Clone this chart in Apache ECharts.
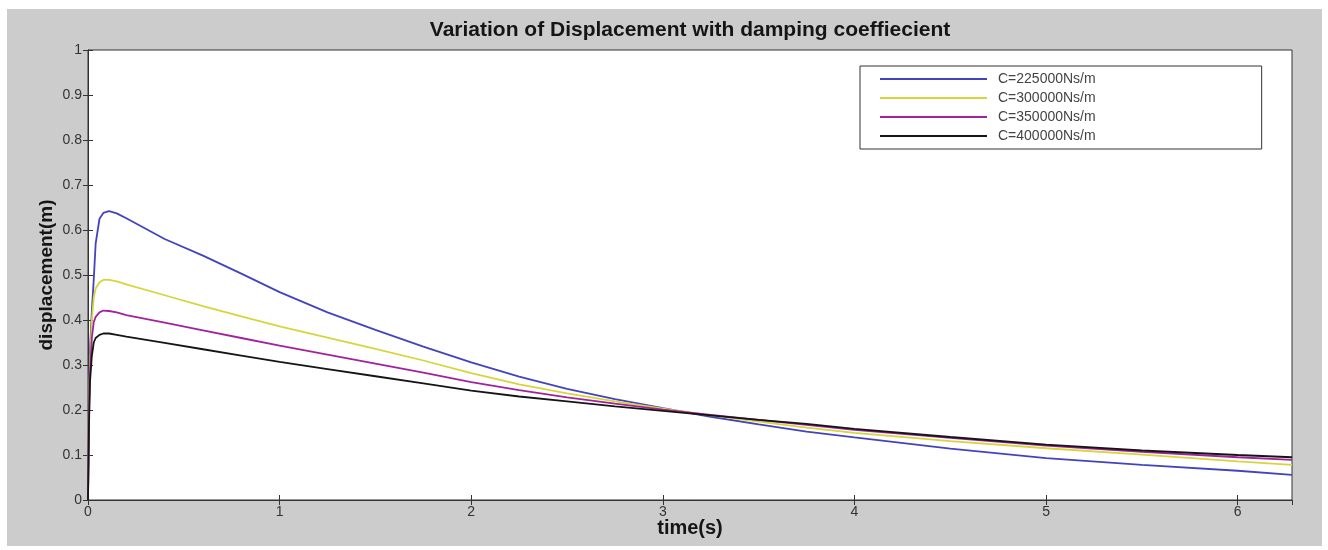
<!DOCTYPE html>
<html>
<head>
<meta charset="utf-8">
<script src="https://cdn.jsdelivr.net/npm/echarts@6/dist/echarts.min.js"></script>
<style>
html,body{margin:0;padding:0;background:#fff;}
#chart{width:1328px;height:550px;}
</style>
</head>
<body>
<div id="chart"></div>
<script>
// ---- data ----
const titleText = 'Variation of Displacement with damping coeffiecient';
const xName = 'time(s)';
const yName = 'displacement(m)';
const seriesNames = ['C=225000Ns/m', 'C=300000Ns/m', 'C=350000Ns/m', 'C=400000Ns/m'];
const seriesColors = ['#4343c0', '#d6d63c', '#a3229c', '#151515'];

const timeS = [0, 0.005, 0.01, 0.02, 0.03, 0.04, 0.06, 0.08, 0.11, 0.15, 0.2, 0.4, 0.6, 0.8, 1.0,
  1.25, 1.5, 1.75, 2.0, 2.25, 2.5, 2.75, 3.0, 3.25, 3.5, 3.75, 4.0, 4.5, 5.0, 5.5, 6.0, 6.2832];

const dispC225 = [0, 0.20, 0.33, 0.42, 0.49, 0.57, 0.625, 0.638, 0.642, 0.637, 0.626, 0.580, 0.543, 0.503, 0.462,
  0.417, 0.378, 0.341, 0.306, 0.274, 0.247, 0.224, 0.204, 0.185, 0.168, 0.152, 0.139, 0.114, 0.093, 0.078, 0.065, 0.056];
const dispC300 = [0, 0.20, 0.30, 0.40, 0.45, 0.47, 0.484, 0.489, 0.489, 0.486, 0.479, 0.455, 0.431, 0.408, 0.386,
  0.361, 0.336, 0.310, 0.282, 0.257, 0.237, 0.219, 0.203, 0.188, 0.174, 0.161, 0.149, 0.131, 0.115, 0.101, 0.086, 0.078];
const dispC350 = [0, 0.18, 0.28, 0.36, 0.395, 0.407, 0.417, 0.421, 0.420, 0.417, 0.411, 0.394, 0.377, 0.360, 0.343,
  0.323, 0.303, 0.283, 0.262, 0.244, 0.228, 0.214, 0.201, 0.189, 0.178, 0.167, 0.156, 0.138, 0.121, 0.107, 0.095, 0.089];
const dispC400 = [0, 0.16, 0.26, 0.32, 0.35, 0.360, 0.367, 0.370, 0.370, 0.367, 0.363, 0.349, 0.335, 0.321, 0.307,
  0.291, 0.275, 0.259, 0.243, 0.230, 0.219, 0.208, 0.198, 0.188, 0.178, 0.169, 0.158, 0.140, 0.123, 0.110, 0.100, 0.095];

const seriesValues = [dispC225, dispC300, dispC350, dispC400];

const xMin = 0, xMax = 6.2832, xStep = 1;
const yMin = 0, yMax = 1, yStep = 0.1;

// ---- chart ----
const chart = echarts.init(document.getElementById('chart'), null, {renderer: 'canvas'});
const FONT = "'Liberation Sans', Arial, Helvetica, sans-serif";
const axisLineStyle = {color: '#333', width: 1};

const series = seriesNames.map((name, k) => ({
  name: name,
  type: 'line',
  xAxisIndex: 0,
  yAxisIndex: 0,
  symbol: 'none',
  smooth: false,
  data: timeS.map((t, i) => [t, seriesValues[k][i]]),
  lineStyle: {color: seriesColors[k], width: 1.8},
  itemStyle: {color: seriesColors[k]},
  z: 3
}));

const option = {
  backgroundColor: '#ffffff',
  animation: false,
  textStyle: {fontFamily: FONT},
  graphic: {
    elements: [{
      type: 'rect', z: -100, silent: true,
      shape: {x: 7, y: 9, width: 1315, height: 537},
      style: {fill: '#cccccc'}
    }]
  },
  title: {
    text: titleText,
    left: 690,
    textAlign: 'center',
    top: 20,
    padding: 0,
    textStyle: {fontSize: 21, fontWeight: 'bold', color: '#151515', fontFamily: FONT}
  },
  legend: {
    data: seriesNames,
    orient: 'vertical',
    left: 860,
    top: 66,
    padding: [6, 166, 6, 19],
    itemWidth: 107,
    itemHeight: 14,
    itemGap: 5,
    itemStyle: {opacity: 0},
    backgroundColor: '#ffffff',
    borderColor: '#333',
    borderWidth: 1,
    borderRadius: 0,
    textStyle: {fontSize: 14, color: '#444', fontFamily: FONT, padding: [0, 0, 0, 6]}
  },
  grid: {
    left: 88, right: 36, top: 50, bottom: 50,
    show: true, backgroundColor: '#ffffff', borderColor: '#333', borderWidth: 1,
    containLabel: false
  },
  xAxis: [{
    type: 'value', position: 'bottom', min: xMin, max: xMax, interval: xStep,
    name: xName, nameLocation: 'middle', nameGap: 18, nameMoveOverlap: false,
    nameTextStyle: {fontSize: 20, fontWeight: 'bold', color: '#151515', fontFamily: FONT},
    axisLine: {show: true, lineStyle: axisLineStyle},
    axisTick: {show: true, inside: true, length: 5, lineStyle: axisLineStyle},
    axisLabel: {show: true, margin: 5, fontSize: 14, color: '#333', showMaxLabel: false,
      formatter: v => (Math.abs(v - Math.round(v)) < 1e-9 ? String(Math.round(v)) : '')},
    splitLine: {show: false}
  }, {
    type: 'value', position: 'top', min: xMin, max: xMax, interval: xStep,
    axisLine: {show: true, lineStyle: axisLineStyle},
    axisTick: {show: true, inside: true, length: 5, lineStyle: axisLineStyle},
    axisLabel: {show: false},
    splitLine: {show: false}
  }],
  yAxis: [{
    type: 'value', position: 'left', min: yMin, max: yMax, interval: yStep,
    name: yName, nameLocation: 'middle', nameGap: 32, nameMoveOverlap: false,
    nameTextStyle: {fontSize: 19, fontWeight: 'bold', color: '#151515', fontFamily: FONT},
    axisLine: {show: true, lineStyle: axisLineStyle},
    axisTick: {show: true, inside: true, length: 5, lineStyle: axisLineStyle},
    axisLabel: {show: true, margin: 6, fontSize: 14, color: '#333',
      formatter: v => String(Math.round(v * 10) / 10)},
    splitLine: {show: false}
  }, {
    type: 'value', position: 'right', min: yMin, max: yMax, interval: yStep,
    axisLine: {show: true, lineStyle: axisLineStyle},
    axisTick: {show: true, inside: true, length: 5, lineStyle: axisLineStyle},
    axisLabel: {show: false},
    splitLine: {show: false}
  }],
  series: series
};
chart.setOption(option);
</script>
</body>
</html>
